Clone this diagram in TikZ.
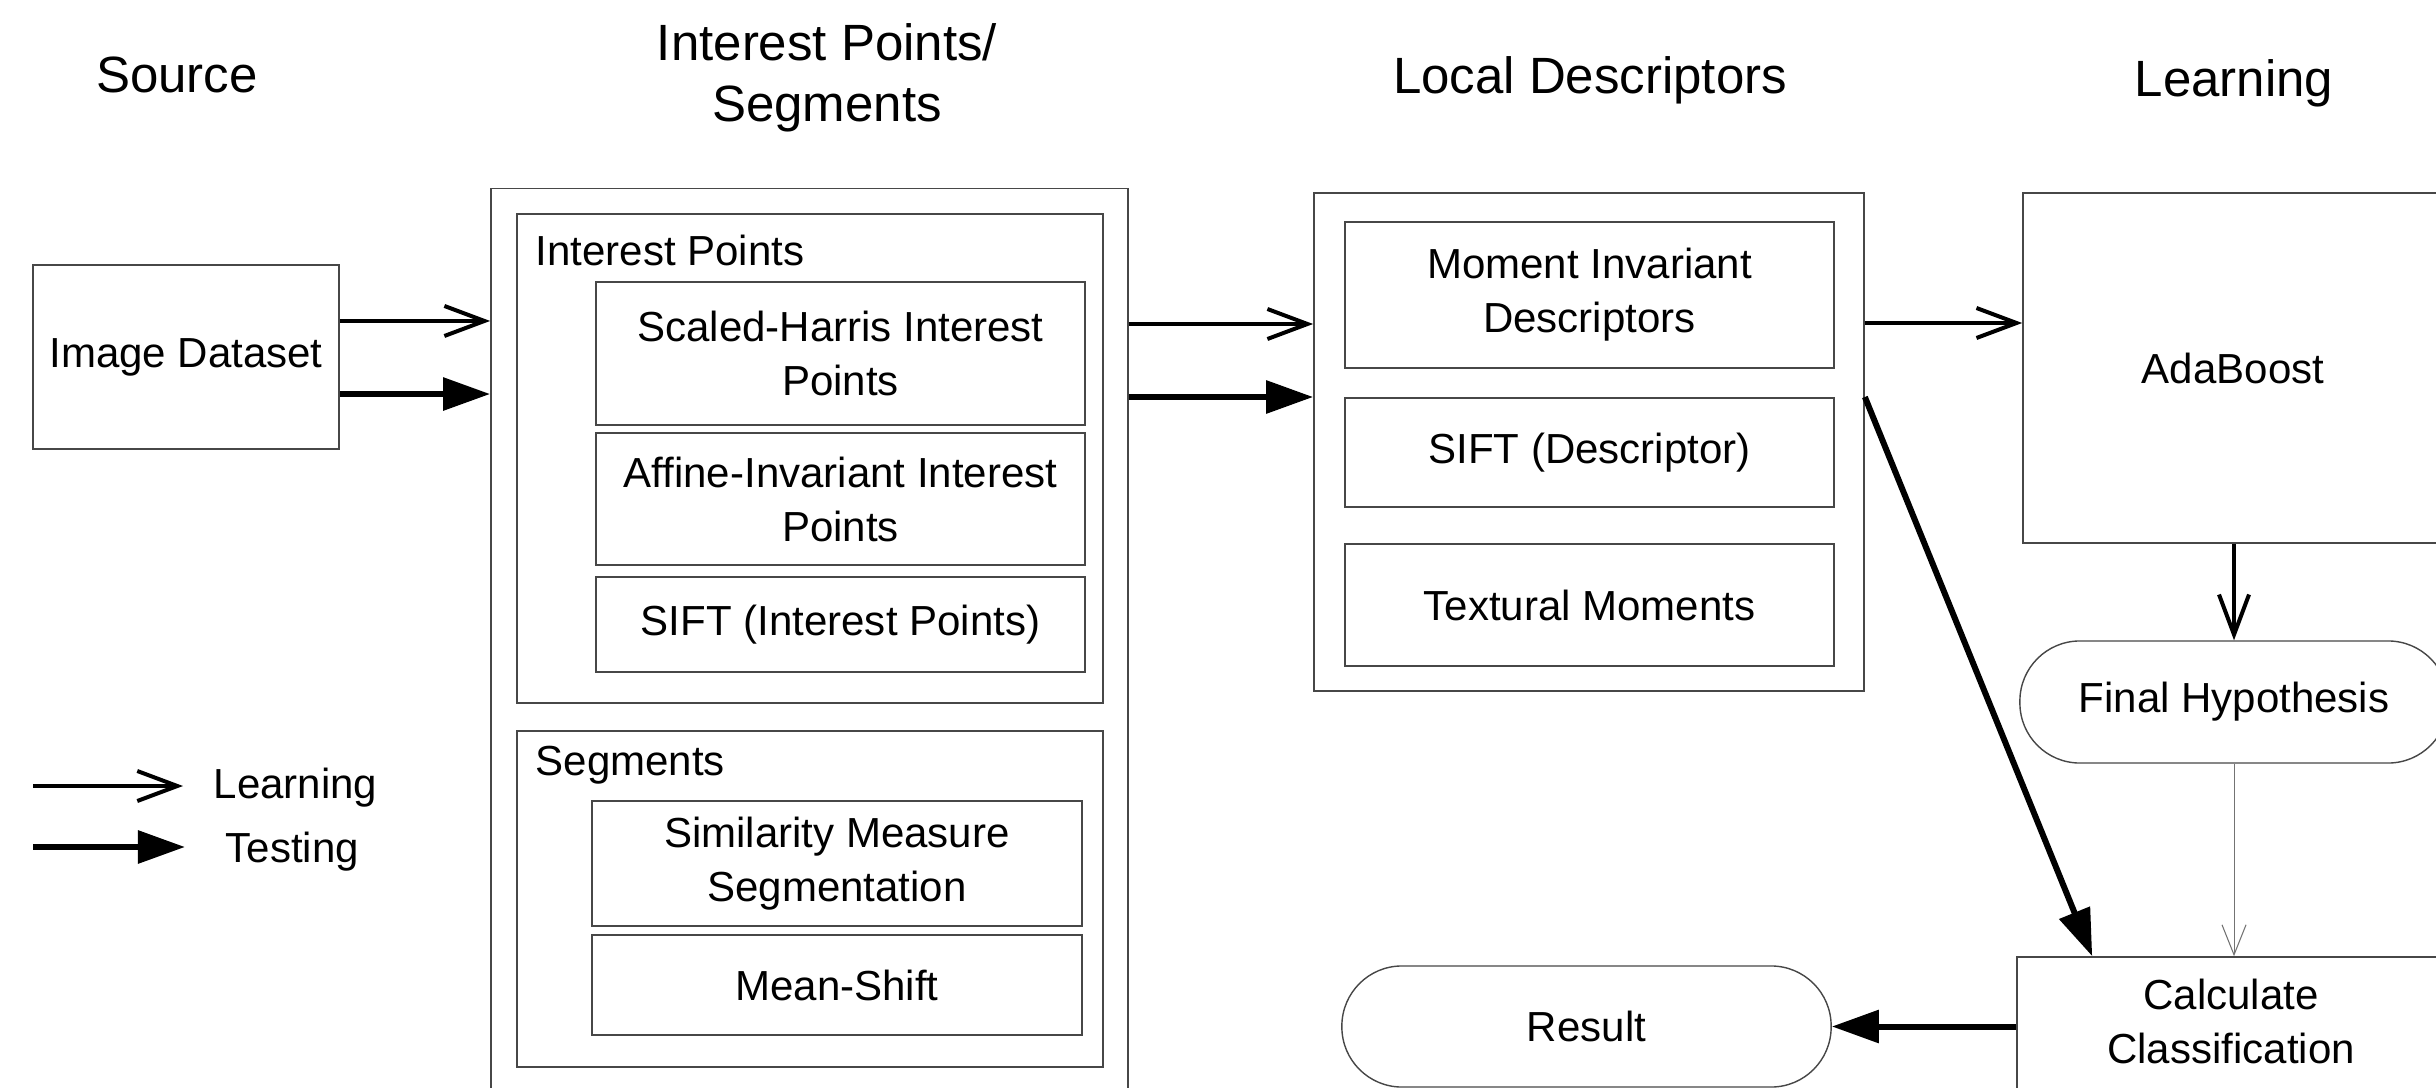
\documentclass[tikz,border=0pt]{standalone}
\usepackage{fontspec}
\setmainfont{Liberation Sans}
\usetikzlibrary{arrows.meta}
\newcommand\mybody{\fontsize{11.95pt}{15.36pt}\selectfont}
\newcommand\mytitle{\fontsize{14.5pt}{17.36pt}\selectfont}
\tikzset{
  box/.style={draw=black!72, line width=0.4pt, rectangle, inner sep=0pt, align=center, font=\mybody},
  rbox/.style={box, rounded corners=0.6cm},
  sz/.style 2 args={minimum width=#1cm, minimum height=#2cm},
  lrn/.style={line width=0.04cm, -{Straight Barb[length=0.4cm,width=0.3cm]}},
  tst/.style={line width=0.06cm, -{Triangle[length=0.47cm,width=0.32cm]}},
  thinlrn/.style={draw=black!55, line width=0.3pt, -{Straight Barb[length=0.3cm,width=0.24cm,line width=0.3pt]}},
  ttl/.style={font=\mytitle, align=center, inner sep=0pt},
  lbl/.style={font=\mybody, inner sep=0pt, anchor=base west},
}
\begin{document}
\begin{tikzpicture}[x=0.01cm,y=-0.01cm]
\useasboundingbox (0,0) rectangle (2436,1088);
\clip (0,0) rectangle (2436,1088);

% titles
\node[ttl, anchor=base] (tsrc) at (177,93) {Source};
\node[ttl] (tip) at (827,78) {Interest Points/\\Segments};
\node[ttl, anchor=base] (tld) at (1590,94) {Local Descriptors};
\node[ttl, anchor=base] (tlrn) at (2234,97) {Learning};

% source
\node[box, sz={3.06}{1.84}] (img) at (186,357) {Image Dataset};

% interest points / segments
\node[box, sz={6.37}{9.21}] (ipouter) at (809.5,649.5) {};
\node[box, sz={5.86}{4.89}] (ipbox) at (810,458.5) {};
\node[lbl] (iplabel) at (535,265) {Interest Points};
\node[box, sz={4.89}{1.43}] (sh) at (840.5,353.5) {Scaled-Harris Interest\\Points};
\node[box, sz={4.89}{1.32}] (aff) at (840.5,499) {Affine-Invariant Interest\\Points};
\node[box, sz={4.89}{0.95}] (siftip) at (840.5,624.5) {SIFT (Interest Points)};
\node[box, sz={5.86}{3.36}] (segbox) at (810,899) {};
\node[lbl] (seglabel) at (535,775) {Segments};
\node[box, sz={4.90}{1.25}] (sim) at (837,863.5) {Similarity Measure\\Segmentation};
\node[box, sz={4.90}{1.00}] (ms) at (837,985) {Mean-Shift};

% local descriptors
\node[box, sz={5.50}{4.98}] (ldouter) at (1589,442) {};
\node[box, sz={4.89}{1.46}] (mom) at (1589.5,295) {Moment Invariant\\Descriptors};
\node[box, sz={4.89}{1.09}] (siftd) at (1589.5,452.5) {SIFT (Descriptor)};
\node[box, sz={4.89}{1.22}] (tex) at (1589.5,605) {Textural Moments};

% learning
\node[box, sz={4.20}{3.50}] (ada) at (2233,368) {AdaBoost};
\node[rbox, sz={4.28}{1.22}] (fh) at (2234,702) {Final Hypothesis};
\node[box, sz={4.43}{2.03}] (calc) at (2238.5,1058.5) {};
\node[font=\mybody, align=center, inner sep=0pt] (calctext) at (2231,1021) {Calculate\\Classification};
\node[rbox, sz={4.89}{1.21}] (res) at (1586.5,1026.5) {Result};

% connectors
\draw[lrn] ([yshift=0.36cm]img.east) coordinate (a1) -- (a1 -| ipouter.west);
\draw[tst] ([yshift=-0.37cm]img.east) coordinate (b1) -- (b1 -| ipouter.west);
\draw[lrn] (ipouter.east |- 0,324) coordinate (a2) -- (a2 -| ldouter.west);
\draw[tst] (ipouter.east |- 0,397) coordinate (b2) -- (b2 -| ldouter.west);
\draw[lrn] (ldouter.east |- 0,323) coordinate (a3) -- (a3 -| ada.west);
\draw[tst] (ldouter.east |- 0,397) -- ([xshift=0.76cm]calc.north west);
\draw[lrn] (ada.south -| fh.north) -- (fh.north);
\draw[thinlrn] (fh.south) -- (fh.south |- calc.north);
\draw[tst] (calc.west |- res.east) -- (res.east);

% legend
\coordinate (lga) at (33,786);
\coordinate (lgb) at (183,786);
\coordinate (lgc) at (33,847);
\coordinate (lgd) at (185,847);
\draw[lrn] (lga) -- (lgb);
\draw[tst] (lgc) -- (lgd);
\node[lbl] (lglrn) at (213,798) {Learning};
\node[lbl] (lgtst) at (225,862) {Testing};
\end{tikzpicture}
\end{document}
